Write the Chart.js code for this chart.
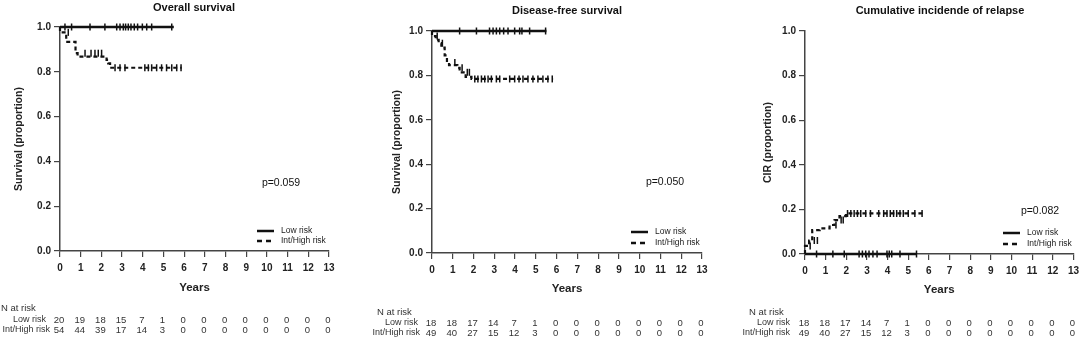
<!DOCTYPE html>
<html>
<head>
<meta charset="utf-8">
<script src="https://cdn.jsdelivr.net/npm/chart.js@4.4.1/dist/chart.umd.min.js"></script>
<style>
  body { margin: 0; background: #fff; width: 1084px; height: 341px; position: relative; overflow: hidden; }
  canvas { position: absolute; top: 0; }
</style>
</head>
<body>
<canvas id="os" width="360" height="341" style="left:0"></canvas>
<canvas id="dfs" width="360" height="341" style="left:360px"></canvas>
<canvas id="cir" width="364" height="341" style="left:720px"></canvas>
<script>
const years = [0, 1, 2, 3, 4, 5, 6, 7, 8, 9, 10, 11, 12, 13];
const yTicks = [0, 0.2, 0.4, 0.6, 0.8, 1.0];
const groups = ['Low risk', 'Int/High risk'];

// Overall survival
const osLowTimes = [0, 5.5];
const osLowValues = [1, 1];
const osLowCensored = [0.24, 0.56, 1.45, 2.17, 2.74, 2.9, 3.06, 3.17, 3.3, 3.43, 3.59, 3.75, 3.98, 4.19, 4.43, 5.4];
const osHighTimes = [0, 0.3, 0.75, 0.85, 2.25, 2.33, 2.42, 2.5, 5.88];
const osHighValues = [1, 0.976, 0.934, 0.883, 0.868, 0.853, 0.838, 0.818, 0.818];
const osHighCensored = [0.4, 1.21, 1.5, 1.69, 1.85, 2.01, 2.66, 2.9, 3.14, 4.1, 4.27, 4.43, 4.67, 4.91, 5.15, 5.4, 5.64, 5.85];
const osRiskLow = [20, 19, 18, 15, 7, 1, 0, 0, 0, 0, 0, 0, 0, 0];
const osRiskHigh = [54, 44, 39, 17, 14, 3, 0, 0, 0, 0, 0, 0, 0, 0];

// Disease-free survival
const dfsLowTimes = [0, 5.51];
const dfsLowValues = [1, 1];
const dfsLowCensored = [1.33, 2.14, 2.77, 2.94, 3.1, 3.26, 3.45, 3.66, 3.98, 4.22, 4.33, 4.7, 5.47];
const dfsHighTimes = [0, 0.18, 0.32, 0.45, 0.61, 0.72, 0.82, 1.22, 1.33, 1.62, 1.9, 1.97, 5.83];
const dfsHighValues = [1, 0.977, 0.96, 0.945, 0.925, 0.89, 0.858, 0.846, 0.834, 0.814, 0.793, 0.784, 0.784];
const dfsHighCensored = [0.25, 0.5, 1.1, 1.45, 1.7, 1.8, 2.06, 2.21, 2.38, 2.54, 2.7, 2.86, 3.1, 3.26, 3.74, 3.98, 4.19, 4.38, 4.62, 4.86, 5.1, 5.34, 5.58, 5.79];
const dfsRiskLow = [18, 18, 17, 14, 7, 1, 0, 0, 0, 0, 0, 0, 0, 0];
const dfsRiskHigh = [49, 40, 27, 15, 12, 3, 0, 0, 0, 0, 0, 0, 0, 0];

// Cumulative incidence of relapse
const cirLowTimes = [0, 5.4];
const cirLowValues = [0, 0];
const cirLowCensored = [0.56, 1.35, 1.9, 2.62, 2.78, 2.94, 3.1, 3.29, 3.49, 3.97, 4.08, 4.2, 4.6, 5.4];
const cirHighTimes = [0, 0.2, 0.35, 0.71, 1.19, 1.43, 1.67, 1.98, 2.03, 5.71];
const cirHighValues = [0, 0.036, 0.06, 0.107, 0.115, 0.13, 0.152, 0.17, 0.182, 0.182];
const cirHighCensored = [0.25, 0.45, 0.6, 1.5, 1.75, 1.85, 2.06, 2.22, 2.38, 2.54, 2.7, 2.94, 3.17, 3.57, 3.81, 3.97, 4.13, 4.29, 4.44, 4.6, 4.76, 5.0, 5.32, 5.67];
const cirRiskLow = [18, 18, 17, 14, 7, 1, 0, 0, 0, 0, 0, 0, 0, 0];
const cirRiskHigh = [49, 40, 27, 15, 12, 3, 0, 0, 0, 0, 0, 0, 0, 0];

Chart.defaults.font.family = '"Liberation Sans", Arial, sans-serif';
Chart.defaults.color = '#222';

const ink = '#111';

function toXY(times, values) {
  return times.map((t, i) => ({ x: t, y: values[i] }));
}

// value of a step curve at time t (last step at or before t)
function stepValue(times, values, t) {
  let v = values[0];
  times.forEach((tt, i) => { if (tt <= t) v = values[i]; });
  return v;
}

function makePanel(id, p) {
  const canvas = document.getElementById(id);
  const W = canvas.width, H = canvas.height;

  const annotations = {
    id: 'annotations',
    afterDraw(chart) {
      const ctx = chart.ctx;
      const xs = chart.scales.x;
      ctx.save();
      ctx.fillStyle = '#111';
      ctx.textBaseline = 'middle';

      // title
      ctx.font = 'bold 11px "Liberation Sans", Arial, sans-serif';
      ctx.textAlign = 'center';
      ctx.fillText(p.title, p.titleX, p.titleY);

      // p-value
      ctx.font = '10.5px "Liberation Sans", Arial, sans-serif';
      ctx.fillText(p.pText, p.pX, p.pY);

      // legend
      ctx.strokeStyle = ink;
      ctx.lineWidth = 2.5;
      ctx.beginPath();
      ctx.moveTo(p.legX, p.legY1);
      ctx.lineTo(p.legX + 17, p.legY1);
      ctx.stroke();
      ctx.setLineDash([5, 4]);
      ctx.beginPath();
      ctx.moveTo(p.legX, p.legY2);
      ctx.lineTo(p.legX + 17, p.legY2);
      ctx.stroke();
      ctx.setLineDash([]);
      ctx.font = '8.5px "Liberation Sans", Arial, sans-serif';
      ctx.textAlign = 'left';
      ctx.fillStyle = '#222';
      ctx.fillText(groups[0], p.legX + 24, p.legY1);
      ctx.fillText(groups[1], p.legX + 24, p.legY2);

      // number at risk
      ctx.fillStyle = '#333';
      ctx.font = '9.5px "Liberation Sans", Arial, sans-serif';
      ctx.fillText('N at risk', p.tabX, p.tabY0);
      ctx.font = '9px "Liberation Sans", Arial, sans-serif';
      ctx.textAlign = 'right';
      ctx.fillText(groups[0], p.lowLabelRight, p.tabY1);
      ctx.fillText(groups[1], p.highLabelRight, p.tabY2);
      ctx.font = '9.5px "Liberation Sans", Arial, sans-serif';
      ctx.textAlign = 'center';
      years.forEach((yr, i) => {
        const px = xs.getPixelForValue(yr) - 1;
        ctx.fillText(String(p.riskLow[i]), px, p.tabY1);
        ctx.fillText(String(p.riskHigh[i]), px, p.tabY2);
      });
      ctx.restore();
    }
  };

  const markStyle = {
    showLine: false,
    clip: 8,
    pointStyle: 'line',
    rotation: 90,
    pointRadius: 3.5,
    pointBorderColor: ink,
    pointBorderWidth: 1.5,
    borderColor: ink
  };

  new Chart(canvas, {
    type: 'line',
    data: {
      datasets: [
        {
          label: groups[0],
          data: toXY(p.lowT, p.lowV),
          borderColor: ink,
          borderWidth: 2.4,
          stepped: 'after',
          pointRadius: 0,
          clip: 8
        },
        {
          label: groups[1],
          data: toXY(p.highT, p.highV),
          borderColor: ink,
          borderWidth: 2.2,
          borderDash: [4, 3],
          stepped: 'after',
          pointRadius: 0,
          clip: 8
        },
        Object.assign({
          label: groups[0] + ' censored',
          data: p.lowC.map(t => ({ x: t, y: stepValue(p.lowT, p.lowV, t) }))
        }, markStyle),
        Object.assign({
          label: groups[1] + ' censored',
          data: p.highC.map(t => ({ x: t, y: stepValue(p.highT, p.highV, t) }))
        }, markStyle)
      ]
    },
    options: {
      responsive: false,
      animation: false,
      layout: {
        padding: { left: 0, top: p.top, right: W - p.right, bottom: H - p.bottom - 50 }
      },
      plugins: {
        legend: { display: false },
        tooltip: { enabled: false },
        title: { display: false }
      },
      scales: {
        x: {
          type: 'linear',
          min: 0,
          max: 13,
          afterFit: s => { s.height = 50; },
          afterBuildTicks: s => { s.ticks = years.map(v => ({ value: v })); },
          grid: { drawOnChartArea: false, tickLength: 6, color: '#444', lineWidth: 1.2 },
          border: { color: '#444', width: 1.5 },
          ticks: {
            autoSkip: false,
            maxRotation: 0,
            padding: 5,
            color: '#222',
            font: { size: 10, weight: 'bold' }
          },
          title: {
            display: true,
            text: 'Years',
            color: '#222',
            font: { size: 11.5, weight: 'bold' },
            padding: { top: 0, bottom: p.xTitlePad }
          }
        },
        y: {
          min: 0,
          max: 1,
          afterFit: s => { s.width = p.left; },
          afterBuildTicks: s => { s.ticks = yTicks.map(v => ({ value: v })); },
          grid: { drawOnChartArea: false, tickLength: 6, color: '#444', lineWidth: 1.2 },
          border: { color: '#444', width: 1.5 },
          ticks: {
            padding: 3,
            color: '#222',
            font: { size: 10, weight: 'bold' },
            callback: v => Number(v).toFixed(1)
          },
          title: {
            display: true,
            text: p.yTitle,
            color: '#222',
            font: { size: 10.5, weight: 'bold' },
            padding: { top: p.yTitlePad, bottom: 0 }
          }
        }
      }
    },
    plugins: [annotations]
  });
}

makePanel('os', {
  title: 'Overall survival', yTitle: 'Survival (proportion)', pText: 'p=0.059',
  lowT: osLowTimes, lowV: osLowValues, lowC: osLowCensored,
  highT: osHighTimes, highV: osHighValues, highC: osHighCensored,
  riskLow: osRiskLow, riskHigh: osRiskHigh,
  left: 60, right: 329, top: 27, bottom: 251,
  xTitlePad: 6.5, yTitlePad: 13.2,
  titleX: 194, titleY: 8,
  pX: 281, pY: 183,
  legX: 257, legY1: 231, legY2: 241,
  tabX: 1, tabY0: 308, tabY1: 320, tabY2: 330, lowLabelRight: 46, highLabelRight: 50
});

makePanel('dfs', {
  title: 'Disease-free survival', yTitle: 'Survival (proportion)', pText: 'p=0.050',
  lowT: dfsLowTimes, lowV: dfsLowValues, lowC: dfsLowCensored,
  highT: dfsHighTimes, highV: dfsHighValues, highC: dfsHighCensored,
  riskLow: dfsRiskLow, riskHigh: dfsRiskHigh,
  left: 72, right: 342, top: 31, bottom: 253,
  xTitlePad: 6.8, yTitlePad: 30.5,
  titleX: 207, titleY: 11,
  pX: 305, pY: 182,
  legX: 271, legY1: 232, legY2: 243,
  tabX: 17, tabY0: 312, tabY1: 323, tabY2: 333, lowLabelRight: 58, highLabelRight: 60
});

makePanel('cir', {
  title: 'Cumulative incidende of relapse', yTitle: 'CIR (proportion)', pText: 'p=0.082',
  lowT: cirLowTimes, lowV: cirLowValues, lowC: cirLowCensored,
  highT: cirHighTimes, highV: cirHighValues, highC: cirHighCensored,
  riskLow: cirRiskLow, riskHigh: cirRiskHigh,
  left: 85, right: 358, top: 31, bottom: 254,
  xTitlePad: 7.5, yTitlePad: 41.5,
  titleX: 220, titleY: 11,
  pX: 320, pY: 211,
  legX: 283, legY1: 233, legY2: 244,
  tabX: 29, tabY0: 312, tabY1: 323, tabY2: 333, lowLabelRight: 70, highLabelRight: 70
});
</script>
</body>
</html>
